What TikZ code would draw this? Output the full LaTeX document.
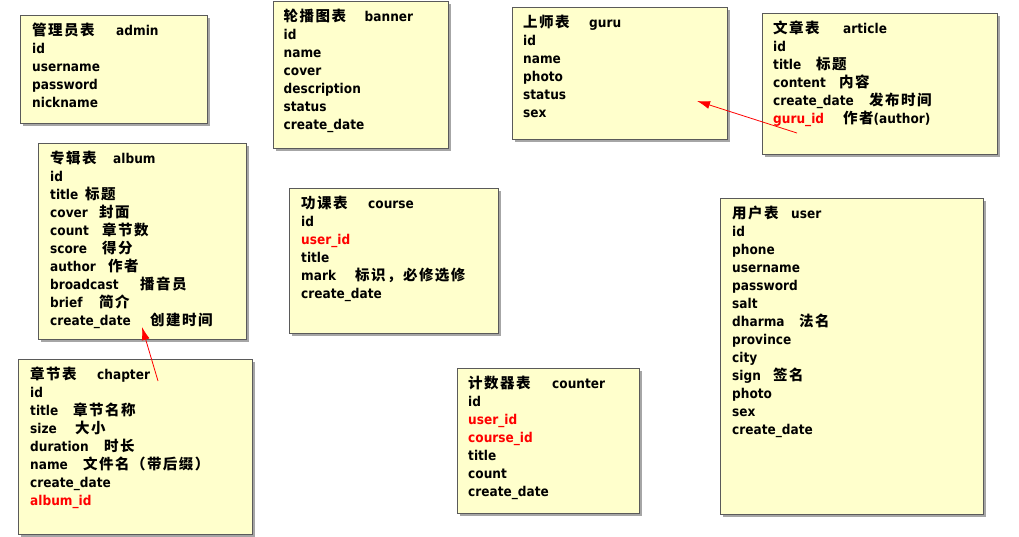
\documentclass[tikz,border=0pt]{standalone}
\usepackage{fontspec}
\setmainfont{DejaVu Sans}[FakeStretch=0.9]
\newfontfamily\cjkf{Noto Sans CJK SC}[LetterSpace=10]
\usetikzlibrary{shadows,arrows.meta}
\definecolor{boxfill}{HTML}{FFFFCC}
\definecolor{boxline}{HTML}{5A5A5A}
\definecolor{fkred}{HTML}{FF0000}
\newcommand{\zhs}[1]{{\cjkf\bfseries\fontsize{14.5}{18}\selectfont #1}}
\newcommand{\tcol}[3]{\makebox[#2pt][l]{#1}#3}
\newcommand{\fkt}[1]{\textcolor{fkred}{#1}}
\tikzset{
  tbl/.style={draw=boxline, line width=1pt, fill=boxfill, anchor=north west,
    inner sep=0pt, outer sep=0pt,
    drop shadow={shadow xshift=3pt, shadow yshift=-3pt, fill=black, opacity=0.35}},
  txt/.style={anchor=north west, inner sep=0pt, align=left,
    font=\fontsize{13.5}{18}\selectfont\bfseries},
  fk/.style={draw=fkred, line width=0.8pt, -{Latex[length=13pt,width=8pt]}}
}
\newcommand{\fs}{\rule{0pt}{13pt}}
\begin{document}
\begin{tikzpicture}[x=1pt,y=-1pt]
\useasboundingbox (0,0) rectangle (1019,536);
% boxes
\node[tbl, minimum width=187pt, minimum height=108pt] (admin) at (20,15) {};
\node[tbl, minimum width=175pt, minimum height=147pt] (banner) at (273,1) {};
\node[tbl, minimum width=215pt, minimum height=132pt] (guru) at (512,7) {};
\node[tbl, minimum width=235pt, minimum height=141pt] (article) at (762,13) {};
\node[tbl, minimum width=208pt, minimum height=196pt] (album) at (38,143) {};
\node[tbl, minimum width=209pt, minimum height=145pt] (course) at (289,188) {};
\node[tbl, minimum width=234pt, minimum height=175pt] (chapter) at (18,359) {};
\node[tbl, minimum width=182pt, minimum height=145pt] (counter) at (457,368) {};
\node[tbl, minimum width=263pt, minimum height=316pt] (user) at (720,198) {};
% texts
\node[txt] (admin-t) at ([xshift=12pt,yshift=-7.5pt]admin.north west)
 {\fs\tcol{\zhs{管理员表}}{84}{admin}\\id\\username\\password\\nickname};
\node[txt] (banner-t) at ([xshift=10.5pt,yshift=-7.5pt]banner.north west)
 {\fs\tcol{\zhs{轮播图表}}{81}{banner}\\id\\name\\cover\\description\\status\\create\_date};
\node[txt] (guru-t) at ([xshift=11pt,yshift=-7.5pt]guru.north west)
 {\fs\tcol{\zhs{上师表}}{66}{guru}\\id\\name\\photo\\status\\sex};
\node[txt] (article-t) at ([xshift=11pt,yshift=-7.5pt]article.north west)
 {\fs\tcol{\zhs{文章表}}{70}{article}\\id\\\tcol{title}{43}{\zhs{标题}}\\\tcol{content}{66}{\zhs{内容}}\\\tcol{create\_date}{96}{\zhs{发布时间}}\\\tcol{\fkt{guru\_id}}{70}{\zhs{作者}(author)}};
\node[txt] (album-t) at ([xshift=12pt,yshift=-7.5pt]album.north west)
 {\fs\tcol{\zhs{专辑表}}{63}{album}\\id\\\tcol{title}{35}{\zhs{标题}}\\\tcol{cover}{49}{\zhs{封面}}\\\tcol{count}{52}{\zhs{章节数}}\\\tcol{score}{52}{\zhs{得分}}\\\tcol{author}{58}{\zhs{作者}}\\\tcol{broadcast}{90}{\zhs{播音员}}\\\tcol{brief}{49}{\zhs{简介}}\\\tcol{create\_date}{100}{\zhs{创建时间}}};
\node[txt] (course-t) at ([xshift=12pt,yshift=-7.5pt]course.north west)
 {\fs\tcol{\zhs{功课表}}{67}{course}\\id\\\fkt{user\_id}\\title\\\tcol{mark}{54}{\zhs{标识，必修选修}}\\create\_date};
\node[txt] (chapter-t) at ([xshift=12pt,yshift=-7.5pt]chapter.north west)
 {\fs\tcol{\zhs{章节表}}{67}{chapter}\\id\\\tcol{title}{43}{\zhs{章节名称}}\\\tcol{size}{45}{\zhs{大小}}\\\tcol{duration}{74}{\zhs{时长}}\\\tcol{name}{53}{\zhs{文件名（带后缀）}}\\create\_date\\\fkt{album\_id}};
\node[txt] (counter-t) at ([xshift=11pt,yshift=-7.5pt]counter.north west)
 {\fs\tcol{\zhs{计数器表}}{84}{counter}\\id\\\fkt{user\_id}\\\fkt{course\_id}\\title\\count\\create\_date};
\node[txt] (user-t) at ([xshift=12pt,yshift=-7.5pt]user.north west)
 {\fs\tcol{\zhs{用户表}}{59}{user}\\id\\phone\\username\\password\\salt\\\tcol{dharma}{67}{\zhs{法名}}\\province\\city\\\tcol{sign}{41}{\zhs{签名}}\\photo\\sex\\create\_date};
% connectors
\coordinate (artfk) at (797,133);
\coordinate (gurutip) at (697,101);
\coordinate (chapfk) at (158,381);
\coordinate (albumtip) at (142,327);
\draw[fk] (artfk) -- (gurutip);
\draw[fk] (chapfk) -- (albumtip);
\end{tikzpicture}
\end{document}
